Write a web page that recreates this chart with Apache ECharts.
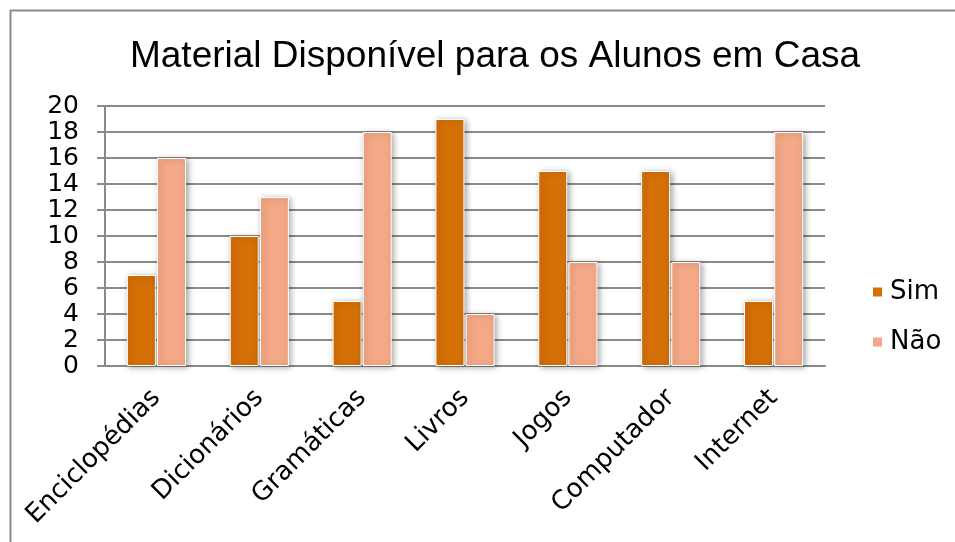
<!DOCTYPE html>
<html>
<head>
<meta charset="utf-8">
<script src="https://cdn.jsdelivr.net/npm/echarts@6/dist/echarts.min.js"></script>
<style>html,body{margin:0;padding:0;background:#fff}#c{width:955px;height:542px}</style>
</head>
<body>
<div id="c"></div>
<script>
const categories = ['Enciclopédias','Dicionários','Gramáticas','Livros','Jogos','Computador','Internet'];
const simValues = [7,10,5,19,15,15,5];
const naoValues = [16,13,18,4,8,8,18];
const seriesNames = ['Sim','Não'];
const titleText = 'Material Disponível para os Alunos em Casa';

const chart = echarts.init(document.getElementById('c'), null, {renderer:'canvas'});
const barStyle = (c) => ({
  color: c,
  borderColor: '#ffffff',
  borderWidth: 1,
  shadowColor: 'rgba(0,0,0,0.35)',
  shadowBlur: 6,
  shadowOffsetX: 2,
  shadowOffsetY: 1
});
chart.setOption({
  animation: false,
  backgroundColor: '#fff',
  graphic: [{
    type: 'rect', left: 8, top: 8, z: -10,
    shape: {x: 0, y: 0, width: 960, height: 540},
    style: {fill: 'none', stroke: '#8a8a8a', lineWidth: 2}
  }],
  title: {
    text: titleText,
    left: 490, top: 33, textAlign: 'center',
    textStyle: {fontFamily: 'Liberation Sans', fontWeight: 'normal', fontSize: 37, color: '#000'}
  },
  legend: {
    orient: 'vertical',
    left: 866, top: 274,
    itemWidth: 11, itemHeight: 11, itemGap: 24,
    icon: 'rect',
    textStyle: {fontFamily: 'DejaVu Sans', fontSize: 26, color: '#000', padding: [0,0,0,2]},
    data: seriesNames
  },
  grid: {left: 105, right: 130, top: 106, bottom: 176, containLabel: false},
  xAxis: {
    type: 'category',
    data: categories,
    axisLine: {show: true, lineStyle: {color: '#8a8a8a', width: 2}},
    axisTick: {show: false},
    axisLabel: {rotate: 45, fontFamily: 'DejaVu Sans', fontSize: 26, color: '#000', margin: 28, interval: 0}
  },
  yAxis: {
    type: 'value', min: 0, max: 20, interval: 2,
    axisLine: {show: true, lineStyle: {color: '#8a8a8a', width: 2}},
    axisTick: {show: true, length: 8, lineStyle: {color: '#8a8a8a', width: 2}},
    splitLine: {show: true, lineStyle: {color: '#8a8a8a', width: 2}},
    axisLabel: {fontFamily: 'DejaVu Sans', fontSize: 25, color: '#000', margin: 26,
                showMinLabel: true, showMaxLabel: true, hideOverlap: false, lineHeight: 20}
  },
  series: [
    {name: seriesNames[0], type: 'bar', data: simValues, barWidth: 29, barGap: '4%', itemStyle: barStyle('#D57007')},
    {name: seriesNames[1], type: 'bar', data: naoValues, barWidth: 29, barGap: '4%', itemStyle: barStyle('#F4A886')}
  ]
});
</script>
</body>
</html>
